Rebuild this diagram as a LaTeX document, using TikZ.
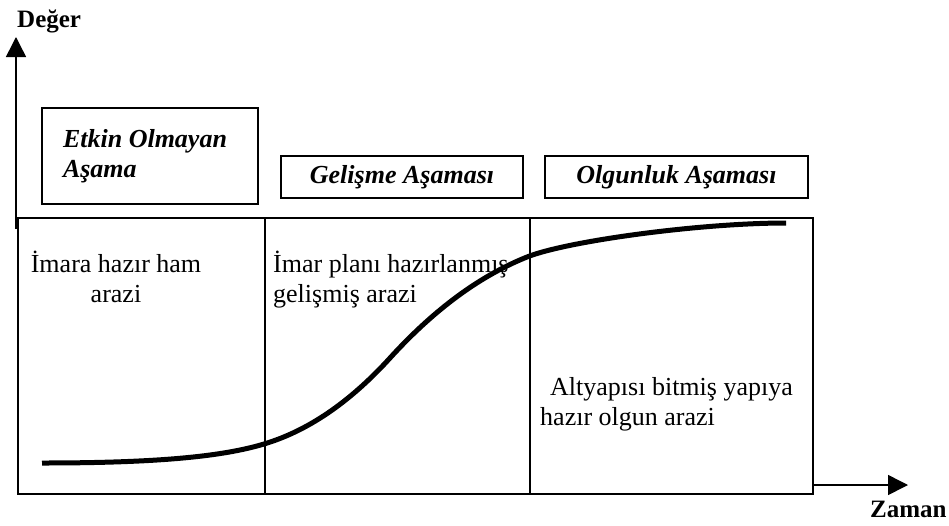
\documentclass[tikz,border=0pt]{standalone}
\usepackage{fontspec}
\setmainfont{Liberation Serif}
\usetikzlibrary{arrows.meta}
\begin{document}
\begin{tikzpicture}[x=1pt,y=-1pt,
  panel/.style={draw,line width=1.8pt,minimum height=276pt,inner sep=0pt,anchor=north west},
  stagebox/.style={draw,line width=1.2pt,inner sep=0pt,align=left,
    font=\fontsize{26}{30}\selectfont\bfseries\itshape},
  bodytext/.style={inner sep=0pt,font=\fontsize{26}{30}\selectfont},
  axislabel/.style={inner sep=0pt,anchor=base west,font=\fontsize{25}{28}\selectfont\bfseries},
  axis/.style={line width=1.5pt,-{Triangle[width=20pt,length=20pt]}},
  curve/.style={line width=5pt}]
\useasboundingbox (0,0) rectangle (949,525);
% panels
\node[panel,minimum width=247pt] (p1) at (17,217) {};
\node[panel,minimum width=265pt] (p2) at (264,217) {};
\node[panel,minimum width=283pt] (p3) at (529,217) {};
% axes
\coordinate (yo) at (16,229);
\coordinate (yt) at (16,37);
\draw[axis] (yo) -- (yt);
\coordinate (xo) at (812,485);
\coordinate (xt) at (908,485);
\draw[axis] (xo) -- (xt);
\node[axislabel] (deger) at (17,27) {Değer};
\node[axislabel] (zaman) at (870,517) {Zaman};
% stage boxes
\node[stagebox,minimum width=216pt,minimum height=96pt] (s1) at (150,156) {Etkin Olmayan\hspace*{10pt}\\Aşama};
\node[stagebox,minimum width=242pt,minimum height=42pt] (s2) at (402,177) {Gelişme Aşaması};
\node[stagebox,minimum width=263pt,minimum height=42pt] (s3) at (676.5,177) {Olgunluk Aşaması};
% body texts
\node[bodytext,align=center,anchor=base] (t1) at (116,302) {İmara hazır ham\\arazi};
\node[bodytext,align=left,anchor=base west] (t2) at (273,302) {İmar planı hazırlanmış\\gelişmiş arazi};
\node[bodytext,align=left,anchor=base west] (t3) at (540,425) {\hspace{10pt}Altyapısı bitmiş yapıya\\hazır olgun arazi};
% curve
\coordinate (cA) at (42,463);
\coordinate (cB) at (264,444);
\coordinate (cC) at (390,358);
\coordinate (cD) at (527,257);
\coordinate (cE) at (786,223);
\draw[curve] (cA) .. controls (162,463) and (224,456) .. (cB)
  .. controls (306,431.4) and (348,404.2) .. (cC)
  .. controls (435.7,307.8) and (481.3,275.3) .. (cD)
  .. controls (567,241) and (700,223) .. (cE);
\end{tikzpicture}
\end{document}
